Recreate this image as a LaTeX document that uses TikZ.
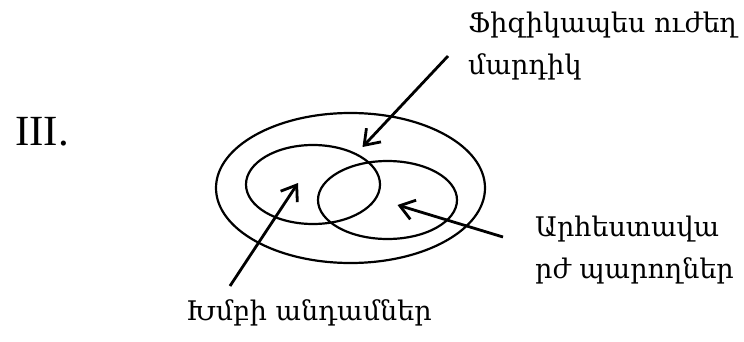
\documentclass[tikz,border=0pt]{standalone}
\usepackage{fontspec}
\setmainfont{Liberation Serif}
\newfontfamily\armfont{DejaVu Serif}
\usetikzlibrary{positioning,arrows.meta,shapes.geometric}

\begin{document}
\begin{tikzpicture}[x=1pt, y=1pt,
  ell/.style={draw, ellipse, line width=2.2pt, inner sep=0pt},
  lbl/.style={anchor=base west, align=left, inner sep=0pt, font=\armfont\fontsize{27}{42}\selectfont},
  arr/.style={line width=2.8pt, -{Straight Barb[length=14pt,width=20pt]}}
]
\useasboundingbox (0,0) rectangle (744,341);
% sets
\node[ell, minimum width=269, minimum height=150] (outer) at (350.5,153) {};
\node[ell, minimum width=134, minimum height=79] (left) at (313,156.5) {};
\node[ell, minimum width=139, minimum height=78] (right) at (387.5,141) {};
% labels
\node[anchor=base west, inner sep=0pt, font=\fontsize{43}{43}\selectfont] (num) at (15,196) {III.};
\node[lbl] (strong) at (468,267) {Ֆիզիկապես ուժեղ\\մարդիկ};
\node[lbl] (dancers) at (535,63) {Արհեստավա\\րժ պարողներ};
\node[lbl] (members) at (186,21) {Խմբի անդամներ};
% arrow ends
\coordinate (s1) at (448,285); \coordinate (e1) at (362.5,194);
\coordinate (s2) at (230,55);  \coordinate (e2) at (298,158);
\coordinate (s3) at (503,104); \coordinate (e3) at (397.5,136);
\foreach \s/\e in {s1/e1,s2/e2,s3/e3} {\draw[arr] (\s) -- (\e);}
\end{tikzpicture}
\end{document}
